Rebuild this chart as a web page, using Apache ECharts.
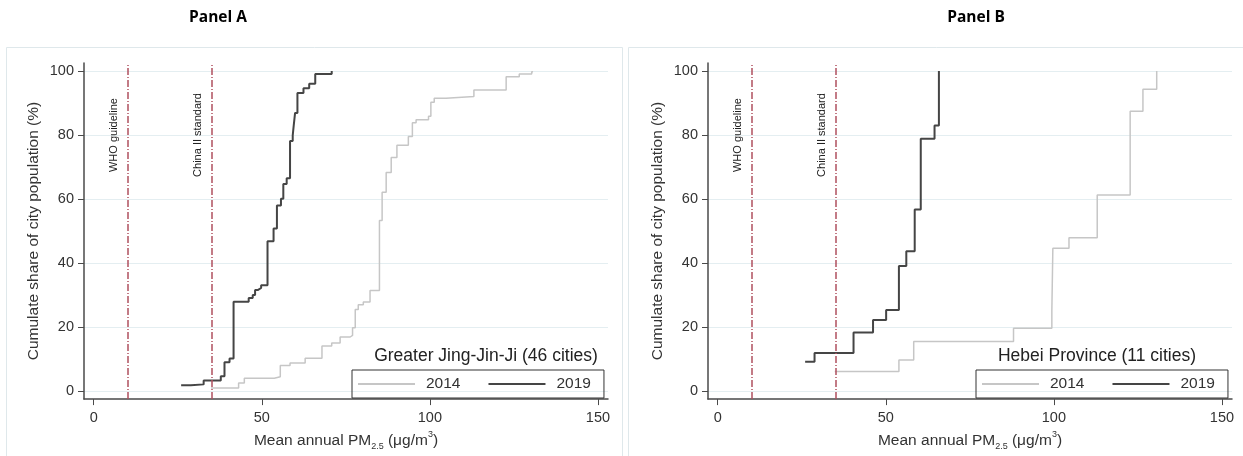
<!DOCTYPE html>
<html>
<head>
<meta charset="utf-8">
<script src="https://cdn.jsdelivr.net/npm/echarts@6/dist/echarts.min.js"></script>
<style>
html, body { margin: 0; padding: 0; background: #fff; }
#main { width: 1243px; height: 456px; }
</style>
</head>
<body>
<div id="main"></div>
<script>
var xTicks = [0, 50, 100, 150];
var yTicks = [0, 20, 40, 60, 80, 100];
var refValues = [10, 35];
var refNames = ['WHO guideline', 'China II standard'];
var panelTitles = ['Panel A', 'Panel B'];
var legendTitles = ['Greater Jing-Jin-Ji (46 cities)', 'Hebei Province (11 cities)'];
var yearNames = ['2014', '2019'];

// Panel A: mean annual PM2.5 and cumulative population share
var pmA2014 = [34.9, 43.1, 44.8, 53.7, 55.5, 58.4, 62.9, 67.9, 70.8, 73.3, 76.3, 77.0, 77.8, 78.7, 80.2, 82.2,
  85.0, 85.8, 87.0, 88.5, 90.2, 93.6, 94.8, 95.9, 99.6, 100.3, 101.3, 104.8, 113.1, 122.7, 126.6, 130.3, 130.7];
var shareA2014 = [1.0, 2.5, 4.0, 4.5, 8.0, 8.8, 10.3, 14.1, 15.0, 16.9, 17.4, 19.8, 25.5, 27.0, 27.8, 31.4,
  53.3, 62.1, 68.3, 73.0, 76.8, 79.5, 83.8, 84.8, 85.9, 90.2, 91.5, 92.0, 94.1, 98.2, 99.1, 99.8, 100];
var pmA2019 = [26.0, 28.9, 32.7, 37.8, 38.9, 40.4, 41.6, 46.1, 47.3, 48.0, 48.9, 49.8, 51.7, 53.5, 54.5,
  55.7, 56.4, 57.4, 58.4, 59.2, 59.5, 59.9, 60.6, 62.4, 64.1, 65.9, 70.8];
var shareA2019 = [1.8, 2.1, 3.3, 4.6, 9.0, 10.2, 27.9, 29.1, 30.0, 31.6, 32.2, 33.1, 46.8, 50.8, 58.0,
  60.1, 64.7, 66.5, 78.1, 79.9, 83.0, 86.9, 93.1, 94.6, 96.0, 99.1, 100];

// Panel B
var pmB2014 = [34.8, 53.9, 58.3, 88.0, 99.4, 99.7, 104.5, 112.9, 122.7, 126.5, 130.6];
var shareB2014 = [6.1, 9.7, 15.5, 19.6, 25.0, 44.6, 47.9, 61.3, 87.4, 94.3, 100];
var pmB2019 = [26.0, 28.8, 40.4, 46.2, 50.1, 53.9, 56.1, 58.6, 60.4, 64.5, 65.8];
var shareB2019 = [9.2, 11.9, 18.3, 22.2, 25.3, 39.1, 43.7, 56.7, 78.8, 83.0, 100];

function zip(xs, ys) {
  var out = [];
  for (var i = 0; i < xs.length; i++) out.push([xs[i], ys[i]]);
  return out;
}

var FONT = '"Liberation Sans", Arial, sans-serif';
var light = '#c6c6c6';
var dark = '#454545';
var refColor = '#b0505f';
var axisColor = '#4a4a4a';

var chart = echarts.init(document.getElementById('main'));

function xAxisFor(i) {
  return {
    type: 'value', gridIndex: i, min: -2.9, max: 153,
    name: '{a|Mean annual PM}{sub|2.5}{a| (\u03bcg/m}{sup|3}{a|)}',
    nameLocation: 'middle', nameGap: 27,
    nameTextStyle: {
      rich: {
        a: { fontFamily: FONT, fontSize: 15.5, color: '#333' },
        sub: { fontFamily: FONT, fontSize: 9, color: '#333', verticalAlign: 'bottom', padding: [6, 0, 0, 0] },
        sup: { fontFamily: FONT, fontSize: 9, color: '#333', verticalAlign: 'top', padding: [0, 0, 12, 0] }
      }
    },
    axisLine: { onZero: false, lineStyle: { color: axisColor, width: 1.5 } },
    axisTick: { customValues: xTicks, length: 6, lineStyle: { color: axisColor } },
    axisLabel: { customValues: xTicks, margin: 11, fontFamily: FONT, fontSize: 14.5, color: '#333' },
    splitLine: { show: false }
  };
}

function yAxisFor(i) {
  return {
    type: 'value', gridIndex: i, min: -2.5, max: 102.5,
    name: 'Cumulate share of city population (%)',
    nameLocation: 'middle', nameGap: 42,
    nameTextStyle: { fontFamily: FONT, fontSize: 15.5, color: '#333' },
    axisLine: { show: true, onZero: false, lineStyle: { color: axisColor, width: 1.5 } },
    axisTick: { show: true, customValues: yTicks, length: 6, lineStyle: { color: axisColor } },
    axisLabel: { customValues: yTicks, margin: 10, fontFamily: FONT, fontSize: 14.5, color: '#333' },
    splitLine: { show: true, lineStyle: { color: '#e4eef1', width: 1 } }
  };
}

function stepSeries(name, i, data, color, width, withRef) {
  var s = {
    name: name, type: 'line', step: 'end', xAxisIndex: i, yAxisIndex: i,
    data: data, symbol: 'none', silent: true,
    lineStyle: { color: color, width: width }, itemStyle: { color: color },
    z: name === '2019' ? 3 : 2
  };
  if (withRef) {
    s.markLine = {
      silent: true, symbol: 'none',
      label: { show: false },
      lineStyle: { color: refColor, width: 1.5, type: [7, 2, 1, 2] },
      data: refValues.map(function (v) { return { xAxis: v }; })
    };
  }
  return s;
}

function legendFor(left) {
  return {
    data: [
      { name: yearNames[0], icon: 'rect', itemStyle: { color: light } },
      { name: yearNames[1], icon: 'rect', itemStyle: { color: dark } }
    ],
    left: left, top: 370,
    orient: 'horizontal', itemWidth: 57, itemHeight: 2, itemGap: 28,
    padding: [5, 13, 5, 6],
    borderColor: '#333', borderWidth: 1, borderRadius: 0,
    selectedMode: false,
    textStyle: { fontFamily: FONT, fontSize: 15.5, color: '#333', padding: [0, 0, 0, 6], lineHeight: 18 }
  };
}

var option = {
  animation: false,
  backgroundColor: '#fff',
  grid: [
    { left: 84, top: 63, width: 524, height: 339 },
    { left: 708, top: 63, width: 524, height: 339 }
  ],
  xAxis: [xAxisFor(0), xAxisFor(1)],
  yAxis: [yAxisFor(0), yAxisFor(1)],
  legend: [legendFor(352), legendFor(976)],
  series: [
    stepSeries('2014', 0, zip(pmA2014, shareA2014), light, 1.5, true),
    stepSeries('2019', 0, zip(pmA2019, shareA2019), dark, 2, false),
    stepSeries('2014', 1, zip(pmB2014, shareB2014), light, 1.5, true),
    stepSeries('2019', 1, zip(pmB2019, shareB2019), dark, 2, false)
  ]
};
chart.setOption(option);

// frames, panel titles, legend titles and reference-line labels
var graphics = [
  { type: 'rect', shape: { x: 6.5, y: 47.5, width: 616, height: 430 }, style: { fill: null, stroke: '#dfe8eb', lineWidth: 1 }, silent: true },
  { type: 'rect', shape: { x: 628.5, y: 47.5, width: 630, height: 430 }, style: { fill: null, stroke: '#dfe8eb', lineWidth: 1 }, silent: true }
];
var titleX = [218, 976];
var legendTitleX = [486, 1097];
for (var p = 0; p < 2; p++) {
  graphics.push({
    type: 'text', x: titleX[p], y: 18, silent: true,
    style: { text: panelTitles[p], fill: '#000', font: 'bold 15.5px "Open Sans", sans-serif', textAlign: 'center', textVerticalAlign: 'middle' }
  });
  graphics.push({
    type: 'text', x: legendTitleX[p], y: 356, silent: true,
    style: { text: legendTitles[p], fill: '#222', font: '17.5px ' + FONT, textAlign: 'center', textVerticalAlign: 'middle' }
  });
  for (var r = 0; r < refValues.length; r++) {
    var px = chart.convertToPixel({ xAxisIndex: p }, refValues[r]);
    var py = chart.convertToPixel({ yAxisIndex: p }, 80);
    graphics.push({
      type: 'text', x: px - 13, y: py, rotation: Math.PI / 2, silent: true,
      style: { text: refNames[r], fill: '#222', font: '11px ' + FONT, textAlign: 'center', textVerticalAlign: 'middle' }
    });
  }
}
chart.setOption({ graphic: graphics });
</script>
</body>
</html>
